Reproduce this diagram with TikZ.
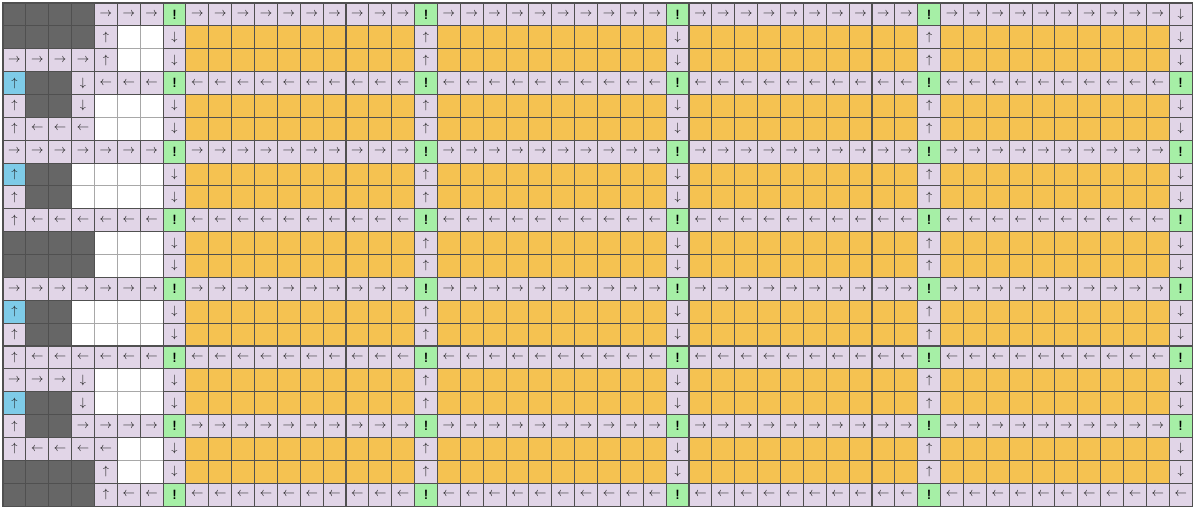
\documentclass[tikz,border=0pt]{standalone}
\usepackage{xcolor}
\definecolor{purp}{HTML}{E1D5E7}
\definecolor{greenc}{HTML}{A6EFA6}
\definecolor{orangec}{HTML}{F5C251}
\definecolor{darkc}{HTML}{666666}
\definecolor{bluec}{HTML}{7ECBE8}
\definecolor{gridc}{HTML}{505050}
\definecolor{lgridc}{HTML}{A8A8A8}
\definecolor{arrc}{HTML}{1E1E1E}
\newcommand\GSu{\small$\uparrow$}
\newcommand\GSB{\small$\uparrow$}
\newcommand\GSd{\small$\downarrow$}
\newcommand\GSr{\small$\rightarrow$}
\newcommand\GSl{\small$\leftarrow$}
\newcommand\GSX{\sffamily\bfseries !}
\newcommand\GSO{}
\newcommand\GSD{}
\newcommand\GSW{}
\newcommand\leftrows{%
0/{D,D,D,D,r,r,r,X},
1/{D,D,D,D,u,W,W,d},
2/{r,r,r,r,u,W,W,d},
3/{B,D,D,d,l,l,l,X},
4/{u,D,D,d,W,W,W,d},
5/{u,l,l,l,W,W,W,d},
6/{r,r,r,r,r,r,r,X},
7/{B,D,D,W,W,W,W,d},
8/{u,D,D,W,W,W,W,d},
9/{u,l,l,l,l,l,l,X},
10/{D,D,D,D,W,W,W,d},
11/{D,D,D,D,W,W,W,d},
12/{r,r,r,r,r,r,r,X},
13/{B,D,D,W,W,W,W,d},
14/{u,D,D,W,W,W,W,d},
15/{u,l,l,l,l,l,l,X},
16/{r,r,r,d,W,W,W,d},
17/{B,D,D,d,W,W,W,d},
18/{u,D,D,r,r,r,r,X},
19/{u,l,l,l,l,W,W,d},
20/{D,D,D,D,u,W,W,d},
21/{D,D,D,D,u,l,l,X}}
\tikzset{
  cell/.style={draw=gridc, line width=0.8pt, minimum size=0.6cm, inner sep=0pt, outer sep=0pt, text=arrc},
  kD/.style={cell, fill=darkc},
  kW/.style={cell, fill=white, draw=lgridc},
  kB/.style={cell, fill=bluec},
  ku/.style={cell, fill=purp},
  kd/.style={cell, fill=purp},
  kr/.style={cell, fill=purp},
  kl/.style={cell, fill=purp},
  kX/.style={cell, fill=greenc, text=black},
  kO/.style={cell, fill=orangec}
}
\begin{document}
\begin{tikzpicture}
\useasboundingbox (-0.078,0.078) rectangle (31.302,-13.302);
% white cells first (lighter borders beneath)
\foreach \r/\row in \leftrows {
  \foreach \k [count=\c from 0] in \row {
    \if\k W
      \node[kW] (c\r-\c) at ({\c*0.6+0.3},{-\r*0.6-0.3}) {};
    \fi
  }
}
% other left cells
\foreach \r/\row in \leftrows {
  \foreach \k [count=\c from 0] in \row {
    \if\k W\else
      \node[k\k] (c\r-\c) at ({\c*0.6+0.3},{-\r*0.6-0.3}) {\csname GS\k\endcsname};
    \fi
  }
}
% right part
\foreach \r/\t/\e in {0/R/d,1/O/d,2/O/d,3/L/X,4/O/d,5/O/d,6/R/X,7/O/d,8/O/d,9/L/X,10/O/d,11/O/d,12/R/X,13/O/d,14/O/d,15/L/X,16/O/d,17/O/d,18/R/X,19/O/d,20/O/d,21/L/l} {
  \foreach \c in {8,...,50} {
    \pgfmathtruncatemacro\m{mod(\c-7,11)}
    \if\t O
      \ifnum\m=0
        \pgfmathtruncatemacro\q{mod((\c-7)/11,2)}
        \ifnum\q=1 \def\kk{u}\else\def\kk{d}\fi
      \else
        \def\kk{O}
      \fi
    \else
      \ifnum\m=0
        \def\kk{X}
      \else
        \if\t R \def\kk{r}\else\def\kk{l}\fi
      \fi
    \fi
    \node[k\kk] (c\r-\c) at ({\c*0.6+0.3},{-\r*0.6-0.3}) {\csname GS\kk\endcsname};
  }
  \node[k\e] (c\r-51) at ({51*0.6+0.3},{-\r*0.6-0.3}) {\csname GS\e\endcsname};
}
\end{tikzpicture}
\end{document}
